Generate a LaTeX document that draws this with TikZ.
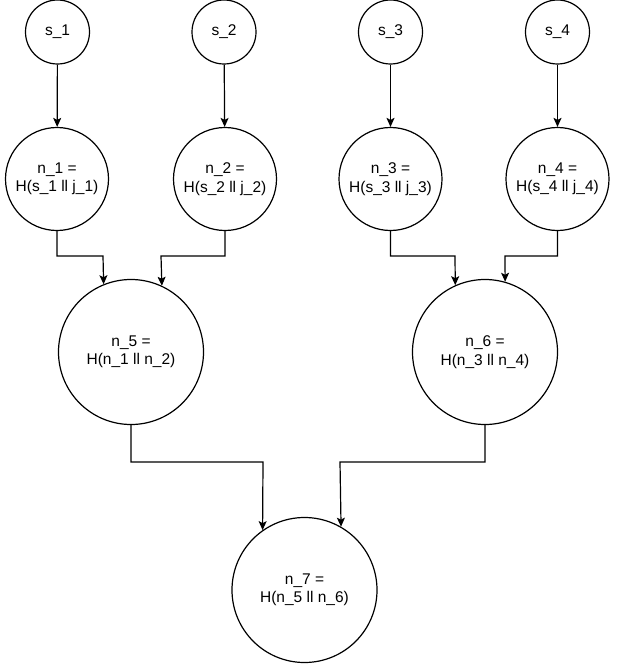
\documentclass[tikz,border=0pt]{standalone}
\usepackage{fontspec}
\setmainfont{Liberation Sans}
\usetikzlibrary{arrows.meta}
\tikzset{
  small/.style={circle,draw=black,line width=1.2pt,minimum size=64pt,inner sep=0pt,font=\fontsize{15.5}{18.5}\selectfont},
  mid/.style={circle,draw=black,line width=1.2pt,minimum size=103pt,inner sep=0pt,align=center,font=\fontsize{15.5}{18.5}\selectfont},
  big/.style={circle,draw=black,line width=1.2pt,minimum size=145pt,inner sep=0pt,align=center,font=\fontsize{15.5}{18.5}\selectfont},
  arr/.style={line width=1.2pt,-{Stealth[length=9pt,width=8pt,inset=2pt]}}
}
\begin{document}
\begin{tikzpicture}[x=1pt,y=-1pt]
\useasboundingbox (0,0) rectangle (622,666);
\node[small] (s1) at (57.5,32) {s\_1};
\node[small] (s2) at (224,32) {s\_2};
\node[small] (s3) at (390.5,32) {s\_3};
\node[small] (s4) at (557.5,32) {s\_4};
\node[mid] (n1) at (57,179) {n\_1 =\\H(s\_1 ll j\_1)};
\node[mid] (n2) at (225,179) {n\_2 =\\H(s\_2 ll j\_2)};
\node[mid] (n3) at (390.5,179) {n\_3 =\\H(s\_3 ll j\_3)};
\node[mid] (n4) at (557.5,179) {n\_4 =\\H(s\_4 ll j\_4)};
\node[big] (n5) at (131,352) {n\_5 =\\H(n\_1 ll n\_2)};
\node[big] (n6) at (485,352) {n\_6 =\\H(n\_3 ll n\_4)};
\node[big] (n7) at (304.5,590) {n\_7 =\\H(n\_5 ll n\_6)};
\draw[arr] (s1) -- (n1);
\draw[arr] (s2) -- (n2);
\draw[arr] (s3) -- (n3);
\draw[arr] (s4) -- (n4);
\draw[arr] (n1.south) |- (103,256) -- (n5.112.7);
\draw[arr] (n2.south) |- (161,256) -- (n5.65.6);
\draw[arr] (n3.south) |- (455,256) -- (n6.114.4);
\draw[arr] (n4.south) |- (505,256) -- (n6.74);
\draw[arr] (n5.south) |- (263,462) -- (n7.125.2);
\draw[arr] (n6.south) |- (340,462) -- (n7.60.5);
\end{tikzpicture}
\end{document}
